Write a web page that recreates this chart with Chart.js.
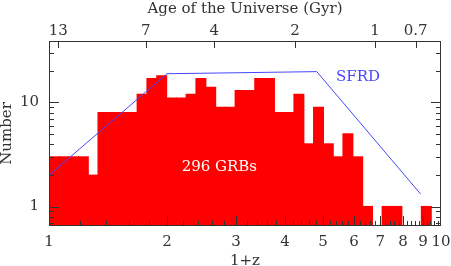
<!DOCTYPE html>
<html>
<head>
<meta charset="utf-8">
<script src="https://cdn.jsdelivr.net/npm/chart.js@4/dist/chart.umd.min.js"></script>
<style>
  html, body { margin: 0; padding: 0; background: #fff; }
  #wrap { width: 451px; height: 266px; }
</style>
</head>
<body>
<div id="wrap"><canvas id="chart"></canvas></div>
<script>
// Bin edges in 1+z (bins are 0.025 dex wide in log(1+z))
const BIN_EDGES = [
  1.000, 1.059, 1.122, 1.189, 1.259, 1.334, 1.413, 1.496, 1.585, 1.679,
  1.778, 1.884, 1.995, 2.113, 2.239, 2.371, 2.512, 2.661, 2.818, 2.985,
  3.162, 3.350, 3.548, 3.758, 3.981, 4.217, 4.467, 4.732, 5.012, 5.309,
  5.623, 5.957, 6.310, 6.683, 7.079, 7.499, 7.943, 8.414, 8.913, 9.441,
  10.000,
];
// GRB counts per bin (sum = 296)
const GRB_COUNTS = [
  3, 3, 3, 3, 2, 8, 8, 8, 8, 12,
  17, 18, 11, 11, 12, 17, 14, 9, 9, 13,
  13, 17, 17, 8, 8, 12, 4, 9, 4, 3,
  5, 3, 1, 0, 1, 1, 0, 0, 1, 0,
];

// Star formation rate density curve (arbitrary normalisation)
const SFRD_X = [1.0, 2.0, 4.82, 8.87];
const SFRD_Y = [2.0, 18.9, 19.8, 1.32];

// Bottom axis (1+z) labelled ticks
const X_TICKS = [1, 2, 3, 4, 5, 6, 7, 8, 9, 10];
// Top axis: age of the universe (Gyr) and where each falls in 1+z
const AGE_LABELS = ["13", "7", "4", "2", "1", "0.7"];
const AGE_POS = [1.056, 1.765, 2.641, 4.243, 6.784, 8.62];
// Left axis
const Y_TICKS = [1, 10];
const Y_MINOR = [0.7, 0.8, 0.9, 2, 3, 4, 5, 6, 7, 8, 9, 20, 30];

const FONT = "'DejaVu Serif', 'Liberation Serif', serif";
const INK = "#333";
const SFRD_BLUE = "rgb(70, 70, 255)";

// histogram bars sit at the geometric centre of each log bin
const barData = GRB_COUNTS.map((n, i) => ({
  x: Math.sqrt(BIN_EDGES[i] * BIN_EDGES[i + 1]),
  y: n > 0 ? n : null,
}));
const sfrdData = SFRD_X.map((x, i) => ({ x, y: SFRD_Y[i] }));

// Inward tick marks, the frame and the two text notes
const frameTicks = {
  id: "frameTicks",
  afterDatasetsDraw(chart) {
    const { ctx, chartArea: a, scales } = chart;
    const X = (v) => Math.round(scales.x.getPixelForValue(v)) + 0.5;
    const Y = (v) => Math.round(scales.y.getPixelForValue(v)) + 0.5;
    ctx.save();
    ctx.strokeStyle = INK;
    ctx.lineWidth = 1;
    ctx.beginPath();
    for (let i = 12; i < 100; i += 2) {
      const px = X(i / 10);
      const len = i % 10 === 0 ? 10 : 5;
      ctx.moveTo(px, a.bottom);
      ctx.lineTo(px, a.bottom - len);
    }
    AGE_POS.forEach((v) => {
      const px = X(v);
      ctx.moveTo(px, a.top);
      ctx.lineTo(px, a.top + 7);
    });
    const yt = (v, len) => {
      const py = Y(v);
      ctx.moveTo(a.left, py);
      ctx.lineTo(a.left + len, py);
      ctx.moveTo(a.right, py);
      ctx.lineTo(a.right - len, py);
    };
    Y_TICKS.forEach((v) => yt(v, 10));
    Y_MINOR.forEach((v) => yt(v, 5));
    ctx.stroke();
    ctx.strokeRect(Math.round(a.left) + 0.5, Math.round(a.top) + 0.5,
      Math.round(a.right - a.left) - 1, Math.round(a.bottom - a.top) - 1);

    ctx.font = "15px " + FONT;
    ctx.textBaseline = "middle";
    ctx.textAlign = "left";
    ctx.fillStyle = "#fff";
    ctx.fillText("296 GRBs", scales.x.getPixelForValue(2.18), scales.y.getPixelForValue(2.38));
    ctx.fillStyle = SFRD_BLUE;
    ctx.fillText("SFRD", scales.x.getPixelForValue(5.4), scales.y.getPixelForValue(17.7));
    ctx.restore();
  },
};

const fixSize = (prop, size) => (s) => {
  s[prop] = size;
  s.paddingLeft = 0;
  s.paddingRight = 0;
  s.paddingTop = 0;
  s.paddingBottom = 0;
};

const tickFont = { family: FONT, size: 15 };

new Chart(document.getElementById("chart"), {
  type: "bar",
  data: {
    datasets: [
      {
        type: "line",
        label: "SFRD",
        data: sfrdData,
        borderColor: SFRD_BLUE,
        borderWidth: 1,
        pointRadius: 0,
        fill: false,
        tension: 0,
        order: 0,
      },
      {
        label: "GRBs",
        data: barData,
        backgroundColor: "#ff0000",
        borderWidth: 0,
        inflateAmount: 0.6,
        barPercentage: 1,
        categoryPercentage: 1,
        order: 1,
      },
    ],
  },
  options: {
    responsive: true,
    maintainAspectRatio: false,
    animation: false,
    layout: { padding: { right: 10 } },
    plugins: {
      legend: { display: false },
      tooltip: { enabled: false },
    },
    scales: {
      x: {
        type: "logarithmic",
        position: "bottom",
        min: 1,
        max: 10,
        offset: false,
        grid: { display: false, drawTicks: false },
        border: { display: false },
        afterBuildTicks: (s) => { s.ticks = X_TICKS.map((v) => ({ value: v })); },
        afterFit: fixSize("height", 40),
        ticks: {
          autoSkip: false,
          maxRotation: 0,
          padding: 7,
          color: INK,
          font: tickFont,
          callback: (v) => String(v),
        },
        title: {
          display: true,
          text: "1+z",
          color: INK,
          padding: 0,
          font: { family: FONT, size: 15, lineHeight: 0.6 },
        },
      },
      x2: {
        type: "logarithmic",
        position: "top",
        min: 1,
        max: 10,
        offset: false,
        grid: { display: false, drawTicks: false },
        border: { display: false },
        afterBuildTicks: (s) => { s.ticks = AGE_POS.map((v) => ({ value: v })); },
        afterFit: fixSize("height", 41),
        ticks: {
          autoSkip: false,
          maxRotation: 0,
          padding: 1,
          color: INK,
          font: tickFont,
          callback: (v, i) => AGE_LABELS[i],
        },
        title: {
          display: true,
          text: "Age of the Universe (Gyr)",
          color: INK,
          padding: 0,
          font: { family: FONT, size: 15, lineHeight: 1.2 },
        },
      },
      y: {
        type: "logarithmic",
        min: 0.65,
        max: 39,
        grid: { display: false, drawTicks: false },
        border: { display: false },
        afterBuildTicks: (s) => { s.ticks = Y_TICKS.map((v) => ({ value: v })); },
        afterFit: fixSize("width", 49),
        ticks: {
          padding: 10,
          color: INK,
          font: tickFont,
          callback: (v) => String(v),
        },
        title: {
          display: true,
          text: "Number",
          color: INK,
          padding: 0,
          font: { family: FONT, size: 15, lineHeight: 1 },
        },
      },
    },
  },
  plugins: [frameTicks],
});
</script>
</body>
</html>
